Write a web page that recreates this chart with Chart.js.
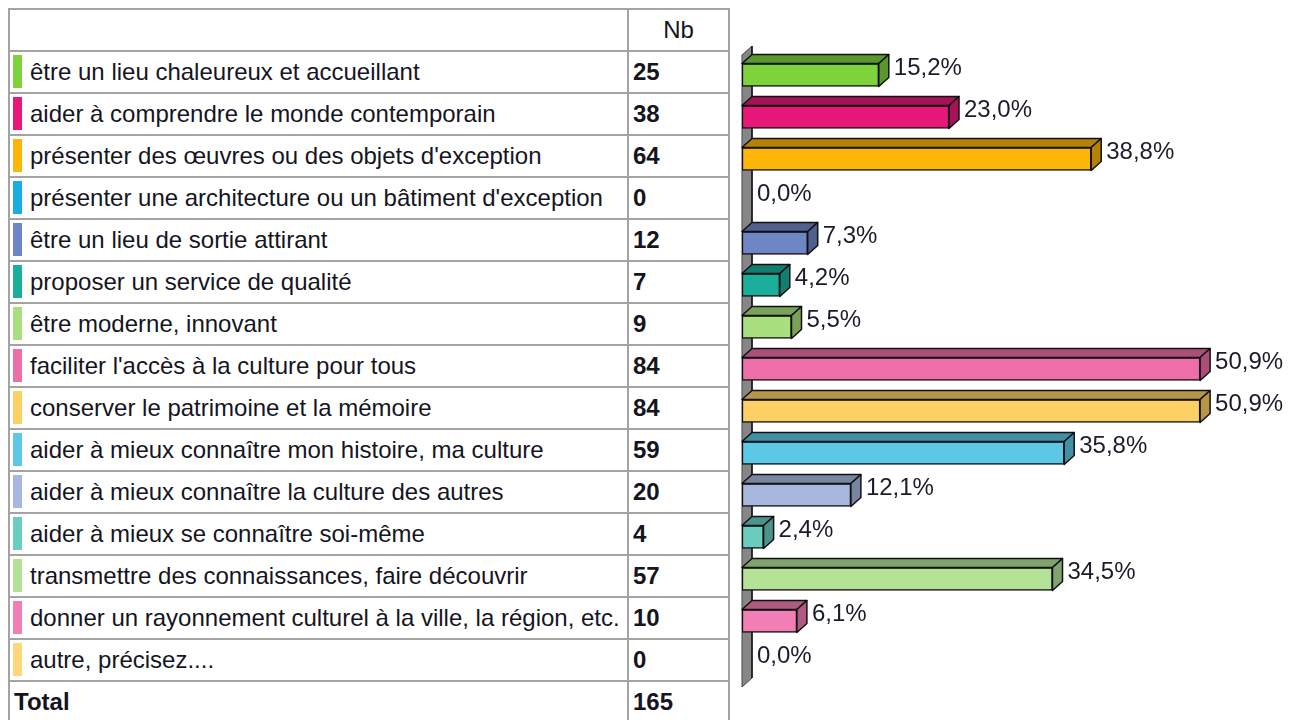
<!DOCTYPE html>
<html lang="fr">
<head>
<meta charset="utf-8">
<title>Nb</title>
<script src="https://cdn.jsdelivr.net/npm/chart.js@4.4.1/dist/chart.umd.min.js"></script>
<style>
    html, body {
        margin: 0;
        padding: 0;
        background: #fff;
        width: 1292px;
        height: 720px;
        overflow: hidden;
        font-family: "Liberation Sans", Arial, sans-serif;
        color: #15151f;
    }
    .cell {
        position: absolute;
        box-sizing: border-box;
        border: 2px solid #a3a3a3;
        font-size: 24px;
        white-space: nowrap;
        display: flex;
        align-items: center;
    }
    .swatch {
        position: absolute;
        left: 3px;
        top: 3px;
        width: 9px;
        height: 33px;
    }
    .label { padding-left: 20px; }
    .num { padding-left: 4px; font-weight: bold; }
    .head { justify-content: center; }
    #chartBox {
        position: absolute;
        left: 730px;
        top: 0;
        width: 562px;
        height: 720px;
    }
</style>
</head>
<body>
<div id="grid"></div>
<div id="chartBox"><canvas id="bars"></canvas></div>

<script>
// Answers
const categories = [
    "être un lieu chaleureux et accueillant",
    "aider à comprendre le monde contemporain",
    "présenter des œuvres ou des objets d'exception",
    "présenter une architecture ou un bâtiment d'exception",
    "être un lieu de sortie attirant",
    "proposer un service de qualité",
    "être moderne, innovant",
    "faciliter l'accès à la culture pour tous",
    "conserver le patrimoine et la mémoire",
    "aider à mieux connaître mon histoire, ma culture",
    "aider à mieux connaître la culture des autres",
    "aider à mieux se connaître soi-même",
    "transmettre des connaissances, faire découvrir",
    "donner un rayonnement culturel à la ville, la région, etc.",
    "autre, précisez...."
];

const counts = [25, 38, 64, 0, 12, 7, 9, 84, 84, 59, 20, 4, 57, 10, 0];
const percents = [15.2, 23.0, 38.8, 0.0, 7.3, 4.2, 5.5, 50.9, 50.9, 35.8, 12.1, 2.4, 34.5, 6.1, 0.0];
const total = 165;

const colors = [
    '#7ED23B', '#E8177A', '#FDB507', '#1AAEE0', '#6F86C6',
    '#1BAF9B', '#AADF80', '#EE6EA8', '#FDD066', '#5CC8E6',
    '#A7B7DE', '#6ACEBF', '#B3E297', '#F17FB5', '#FDD77A'
];

// Darker shade for the top and side faces
function shade(hex, f) {
    const n = parseInt(hex.slice(1), 16);
    const r = Math.round(((n >> 16) & 255) * f);
    const g = Math.round(((n >> 8) & 255) * f);
    const b = Math.round((n & 255) * f);
    return `rgb(${r},${g},${b})`;
}

// Left table
function buildTable() {
    const grid = document.getElementById('grid');
    const left = 8, top = 8, rowH = 42, col1W = 619, col2W = 101;

    function cell(x, y, w, cls, html) {
        const d = document.createElement('div');
        d.className = 'cell ' + cls;
        d.style.left = x + 'px';
        d.style.top = y + 'px';
        d.style.width = (w + 2) + 'px';
        d.style.height = (rowH + 2) + 'px';
        d.innerHTML = html;
        grid.appendChild(d);
    }

    cell(left, top, col1W, '', '');
    cell(left + col1W, top, col2W, 'head', 'Nb');

    categories.forEach((cat, i) => {
        const y = top + rowH * (i + 1);
        cell(left, y, col1W, 'label',
            `<span class="swatch" style="background:${colors[i]}"></span>${cat}`);
        cell(left + col1W, y, col2W, 'num', counts[i]);
    });

    const yTot = top + rowH * (categories.length + 1);
    cell(left, yTot, col1W, 'num', 'Total');
    cell(left + col1W, yTot, col2W, 'num', total);
}

const DX = 10, DY = 9;

// Grey back wall behind the bars
const wallPlugin = {
    id: 'wall',
    beforeDatasetsDraw(chart) {
        const { ctx, chartArea } = chart;
        const x0 = chartArea.left, y0 = chartArea.top, y1 = chartArea.bottom + 3;
        ctx.save();
        ctx.beginPath();
        ctx.moveTo(x0, y0 + 1);
        ctx.lineTo(x0 + DX, y0 + 1 - DY);
        ctx.lineTo(x0 + DX, y1 - DY);
        ctx.lineTo(x0, y1);
        ctx.closePath();
        ctx.fillStyle = '#868686';
        ctx.fill();
        ctx.strokeStyle = '#444';
        ctx.lineWidth = 1;
        ctx.stroke();
        ctx.beginPath();
        ctx.moveTo(x0 + DX, y0 + 1 - DY);
        ctx.lineTo(x0 + DX, y1 - DY);
        ctx.strokeStyle = '#111';
        ctx.lineWidth = 1.5;
        ctx.stroke();
        ctx.restore();
    }
};

// Top and side faces plus the percentage labels
const depthPlugin = {
    id: 'depth',
    afterDatasetsDraw(chart) {
        const { ctx } = chart;
        const meta = chart.getDatasetMeta(0);
        ctx.save();
        ctx.lineWidth = 1.5;
        ctx.strokeStyle = '#111';
        ctx.lineJoin = 'round';
        meta.data.forEach((bar, i) => {
            const { x, y, base, height } = bar.getProps(['x', 'y', 'base', 'height'], true);
            const t = y - height / 2, b = y + height / 2;
            if (x - base > 0.5) {
                const dark = shade(colors[i], 0.72);
                ctx.fillStyle = dark;
                ctx.beginPath();
                ctx.moveTo(base, t);
                ctx.lineTo(base + DX, t - DY);
                ctx.lineTo(x + DX, t - DY);
                ctx.lineTo(x, t);
                ctx.closePath();
                ctx.fill();
                ctx.stroke();
                ctx.beginPath();
                ctx.moveTo(x, t);
                ctx.lineTo(x + DX, t - DY);
                ctx.lineTo(x + DX, b - DY);
                ctx.lineTo(x, b);
                ctx.closePath();
                ctx.fill();
                ctx.stroke();
            }
            ctx.fillStyle = '#1b1b2b';
            ctx.font = '24px "Liberation Sans", Arial, sans-serif';
            ctx.textBaseline = 'alphabetic';
            ctx.textAlign = 'left';
            ctx.fillText(percents[i].toFixed(1).replace('.', ',') + '%', Math.max(x, base) + DX + 5, y);
        });
        ctx.restore();
    }
};

function buildChart() {
    const ctx = document.getElementById('bars').getContext('2d');
    new Chart(ctx, {
        type: 'bar',
        data: {
            labels: categories,
            datasets: [{
                data: percents,
                backgroundColor: colors,
                borderColor: '#111',
                borderWidth: 1.5,
                borderSkipped: false,
                barThickness: 23
            }]
        },
        options: {
            indexAxis: 'y',
            responsive: true,
            maintainAspectRatio: false,
            animation: false,
            layout: {
                padding: { left: 12, right: 10, top: 54, bottom: 36 }
            },
            scales: {
                x: { display: false, min: 0, max: 60 },
                y: { display: false }
            },
            plugins: {
                legend: { display: false },
                tooltip: { enabled: false }
            }
        },
        plugins: [wallPlugin, depthPlugin]
    });
}

document.addEventListener('DOMContentLoaded', function() {
    buildTable();
    buildChart();
});
</script>
</body>
</html>
